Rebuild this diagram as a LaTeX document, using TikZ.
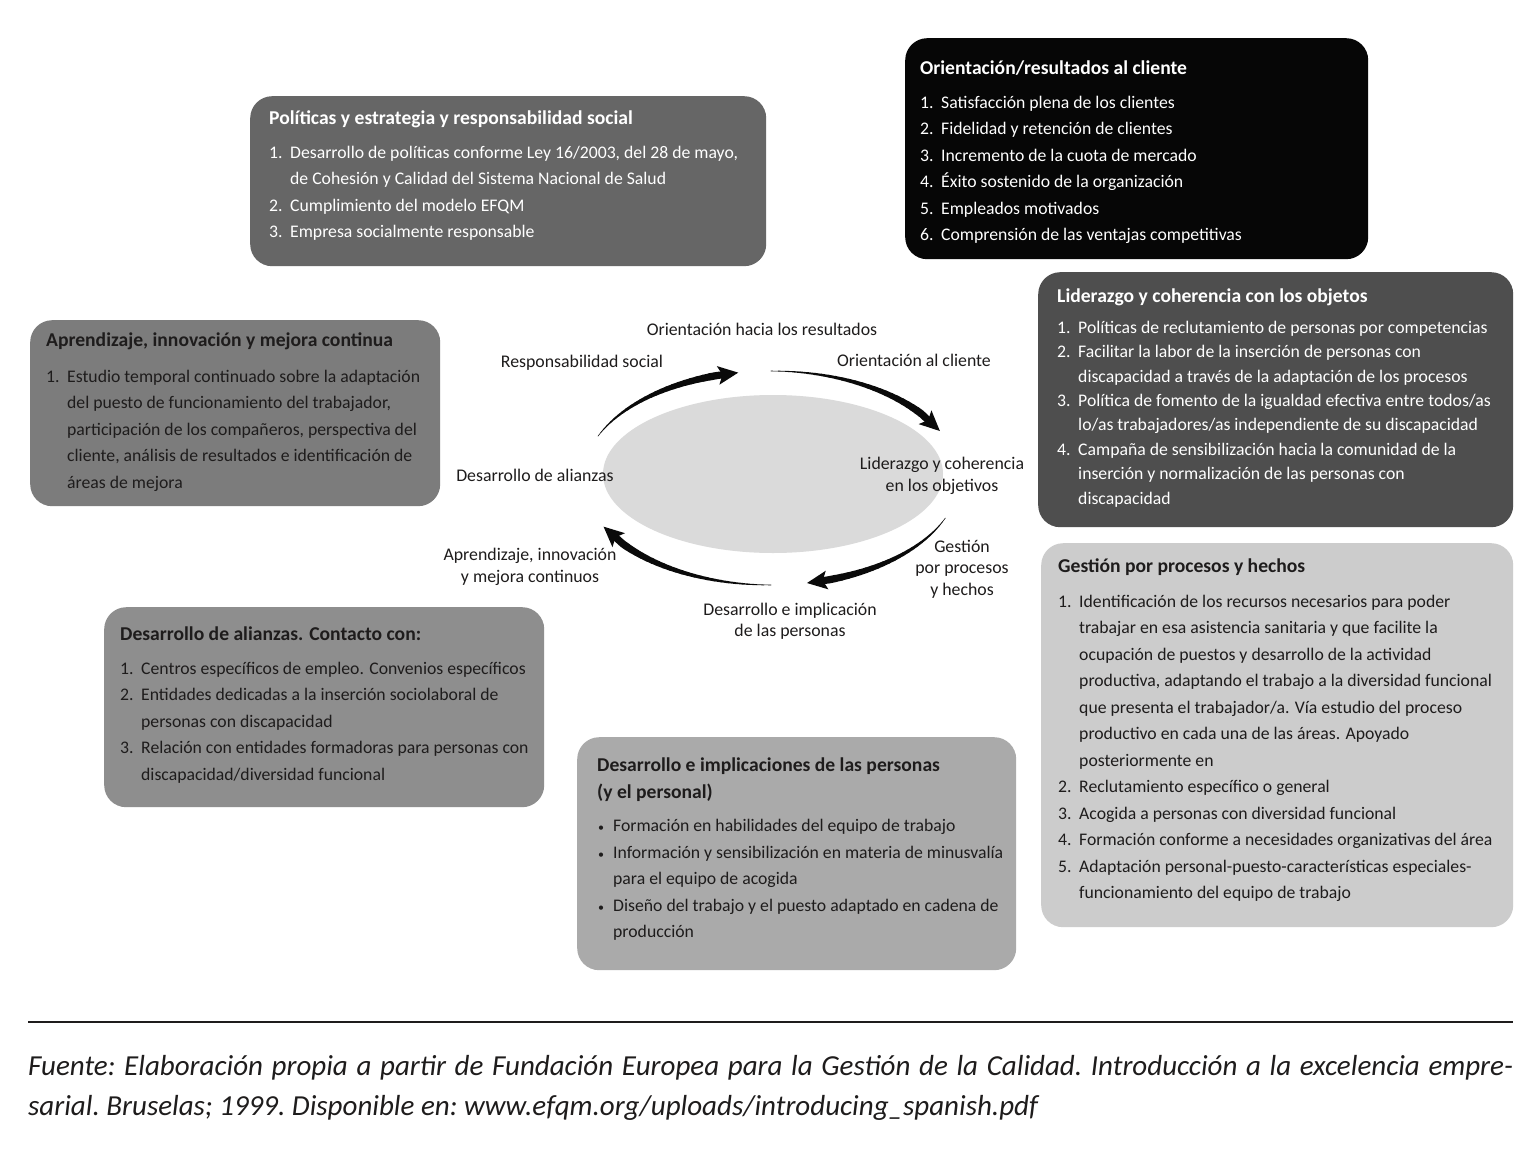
\documentclass[tikz,border=0pt]{standalone}
\usepackage{fontspec}
\setmainfont{Carlito}
\usepackage{tikz}
\usetikzlibrary{
  shapes.geometric,
  arrows.meta,
  positioning,
  calc
}
\definecolor{polgray}{RGB}{102, 102, 102}
\definecolor{origray}{RGB}{6, 6, 6}
\definecolor{lidgray}{RGB}{78, 78, 78}
\definecolor{aprgray}{RGB}{124, 124, 124}
\definecolor{aligray}{RGB}{142, 142, 142}
\definecolor{impgray}{RGB}{170, 170, 170}
\definecolor{gesgray}{RGB}{204, 204, 204}
\definecolor{ellgray}{RGB}{218, 218, 218}
\definecolor{labelcolor}{RGB}{30, 28, 28}
\definecolor{arrowblack}{RGB}{10, 10, 10}
\newcommand{\itemno}[1]{\makebox[21pt][l]{#1}}
\newcommand{\itembul}{\makebox[16pt][l]{\hspace{1pt}{\fontsize{12}{12}\selectfont\textbullet}}}
\newcommand{\itemcont}{\makebox[16pt]{}}
\newcommand{\paneltitle}{\fontsize{19.6}{26.5}\selectfont\bfseries}
% tapered arrow on the ring: start angle, tip angle, head span
\newcommand{\cyclearrow}[3]{%
  \pgfmathsetmacro{\headstart}{#2-#3}
  \foreach \k in {1,...,24}{
    \pgfmathsetmacro{\ta}{#1+(\headstart-#1)*(\k-1)/24}
    \pgfmathsetmacro{\tb}{#1+(\headstart-#1)*\k/24}
    \pgfmathsetmacro{\lw}{0.3+7*(\k/24)^1.05}
    \draw[line width=\lw pt, line cap=round, draw=arrowblack]
      ({771+188*cos(\ta)},{478+107*sin(\ta)}) -- ({771+188*cos(\tb)},{478+107*sin(\tb)});
  }
  \draw[line width=7.2pt, draw=arrowblack, fill=arrowblack, -{Stealth[length=20pt,width=18pt,inset=4pt]}]
    ({771+188*cos(\headstart)},{478+107*sin(\headstart)}) -- ({771+188*cos(#2)},{478+107*sin(#2)});
}
\tikzset{
panel/.style={
  rectangle,
  rounded corners=22pt,
  draw=none,
  anchor=north west,
  inner sep=0pt
},
paneltext/.style={
  anchor=north west,
  align=left,
  inner sep=0pt,
  font=\fontsize{17.7}{26.5}\selectfont,
  text=labelcolor
},
cyclabel/.style={
  align=center,
  inner sep=0pt,
  font=\fontsize{17.8}{21.5}\selectfont,
  text=labelcolor
},
sourcetext/.style={
  anchor=north west,
  align=justify,
  inner sep=0pt,
  text width=1485pt,
  font=\fontsize{29}{40}\selectfont\itshape\frenchspacing,
  text=labelcolor
}
}

\begin{document}
\begin{tikzpicture}[x=1pt, y=-1pt]
  \useasboundingbox (0,0) rectangle (1537,1175);
  \fill[white] (0,0) rectangle (1537,1175);

  % Panels
  \node[panel, fill=polgray, minimum width=516pt, minimum height=170pt] (polbox) at (250,96) {};
  \node[panel, fill=origray, minimum width=463pt, minimum height=221pt] (oribox) at (905,38) {};
  \node[panel, fill=lidgray, minimum width=475pt, minimum height=255pt] (lidbox) at (1038,272) {};
  \node[panel, fill=aprgray, minimum width=410pt, minimum height=186pt] (aprbox) at (30,320) {};
  \node[panel, fill=aligray, minimum width=440pt, minimum height=200pt] (alibox) at (104,607) {};
  \node[panel, fill=impgray, minimum width=439pt, minimum height=233pt] (impbox) at (577,737) {};
  \node[panel, fill=gesgray, minimum width=472pt, minimum height=384pt] (gesbox) at (1041,543) {};

  % Panel texts
  \node[paneltext, text=white] (poltext) at ([xshift=19pt, yshift=-15pt]polbox.north west)
    {{\paneltitle Políticas y estrategia y responsabilidad social}\\[7pt]
     \itemno{1.}Desarrollo de políticas conforme Ley 16/2003, del 28 de mayo,\\
     \itemno{}de Cohesión y Calidad del Sistema Nacional de Salud\\
     \itemno{2.}Cumplimiento del modelo EFQM\\
     \itemno{3.}Empresa socialmente responsable};
  \node[paneltext, text=white] (oritext) at ([xshift=15pt, yshift=-23pt]oribox.north west)
    {{\paneltitle Orientación/resultados al cliente}\\[7pt]
     \itemno{1.}Satisfacción plena de los clientes\\
     \itemno{2.}Fidelidad y retención de clientes\\
     \itemno{3.}Incremento de la cuota de mercado\\
     \itemno{4.}Éxito sostenido de la organización\\
     \itemno{5.}Empleados motivados\\
     \itemno{6.}Comprensión de las ventajas competitivas};
  \node[paneltext, text=white, font=\fontsize{17.7}{24.4}\selectfont] (lidtext) at ([xshift=19pt, yshift=-17pt]lidbox.north west)
    {{\paneltitle Liderazgo y coherencia con los objetos}\\[6pt]
     \itemno{1.}Políticas de reclutamiento de personas por competencias\\
     \itemno{2.}Facilitar la labor de la inserción de personas con\\
     \itemno{}discapacidad a través de la adaptación de los procesos\\
     \itemno{3.}Política de fomento de la igualdad efectiva entre todos/as\\
     \itemno{}lo/as trabajadores/as independiente de su discapacidad\\
     \itemno{4.}Campaña de sensibilización hacia la comunidad de la\\
     \itemno{}inserción y normalización de las personas con\\
     \itemno{}discapacidad};
  \node[paneltext] (aprtext) at ([xshift=16pt, yshift=-13pt]aprbox.north west)
    {{\paneltitle Aprendizaje, innovación y mejora continua}\\[9pt]
     \itemno{1.}Estudio temporal continuado sobre la adaptación\\
     \itemno{}del puesto de funcionamiento del trabajador,\\
     \itemno{}participación de los compañeros, perspectiva del\\
     \itemno{}cliente, análisis de resultados e identificación de\\
     \itemno{}áreas de mejora};
  \node[paneltext] (alitext) at ([xshift=16pt, yshift=-20pt]alibox.north west)
    {{\paneltitle Desarrollo de alianzas. Contacto con:}\\[7pt]
     \itemno{1.}Centros específicos de empleo. Convenios específicos\\
     \itemno{2.}Entidades dedicadas a la inserción sociolaboral de\\
     \itemno{}personas con discapacidad\\
     \itemno{3.}Relación con entidades formadoras para personas con\\
     \itemno{}discapacidad/diversidad funcional};
  \node[paneltext] (imptext) at ([xshift=20pt, yshift=-21pt]impbox.north west)
    {{\paneltitle Desarrollo e implicaciones de las personas}\\
     {\paneltitle (y el personal)}\\[7pt]
     \itembul Formación en habilidades del equipo de trabajo\\
     \itembul Información y sensibilización en materia de minusvalía\\
     \itemcont para el equipo de acogida\\
     \itembul Diseño del trabajo y el puesto adaptado en cadena de\\
     \itemcont producción};
  \node[paneltext] (gestext) at ([xshift=17pt, yshift=-16pt]gesbox.north west)
    {{\paneltitle Gestión por procesos y hechos}\\[8pt]
     \itemno{1.}Identificación de los recursos necesarios para poder\\
     \itemno{}trabajar en esa asistencia sanitaria y que facilite la\\
     \itemno{}ocupación de puestos y desarrollo de la actividad\\
     \itemno{}productiva, adaptando el trabajo a la diversidad funcional\\
     \itemno{}que presenta el trabajador/a. Vía estudio del proceso\\
     \itemno{}productivo en cada una de las áreas. Apoyado\\
     \itemno{}posteriormente en\\
     \itemno{2.}Reclutamiento específico o general\\
     \itemno{3.}Acogida a personas con diversidad funcional\\
     \itemno{4.}Formación conforme a necesidades organizativas del área\\
     \itemno{5.}Adaptación personal-puesto-características especiales-\\
     \itemno{}funcionamiento del equipo de trabajo};

  % Ring in the middle
  \node[ellipse, fill=ellgray, minimum width=340pt, minimum height=158pt, inner sep=0pt] (core) at (773,474) {};
  \cyclearrow{-157}{-100}{7}
  \cyclearrow{-90}{-26}{11}
  \cyclearrow{22}{79}{7}
  \cyclearrow{90}{153}{11}

  % Ring labels
  \node[cyclabel] (lblres) at (762,329) {Orientación hacia los resultados};
  \node[cyclabel] (lblsoc) at (582,363) {Responsabilidad social};
  \node[cyclabel] (lblcli) at (914,360) {Orientación al cliente};
  \node[cyclabel] (lblali) at (535,475) {Desarrollo de alianzas};
  \node[cyclabel] (lbllid) at (942,476) {Liderazgo y coherencia\\en los objetivos};
  \node[cyclabel] (lblapr) at (530,567) {Aprendizaje, innovación\\y mejora continuos};
  \node[cyclabel] (lblges) at (962,569) {Gestión\\por procesos\\y hechos};
  \node[cyclabel] (lbldes) at (790,621) {Desarrollo e implicación\\de las personas};

  % Source
  \draw[line width=2pt, labelcolor] (28,1022) coordinate (rulel) -- (1513,1022) coordinate (ruler);
  \node[sourcetext] (fuente) at (28,1055)
    {Fuente: Elaboración propia a partir de Fundación Europea para la Gestión de la Calidad. Introducción a la excelencia empre-\linebreak
     sarial. Bruselas; 1999. Disponible en: www.efqm.org/uploads/introducing\_spanish.pdf};
\end{tikzpicture}
\end{document}
